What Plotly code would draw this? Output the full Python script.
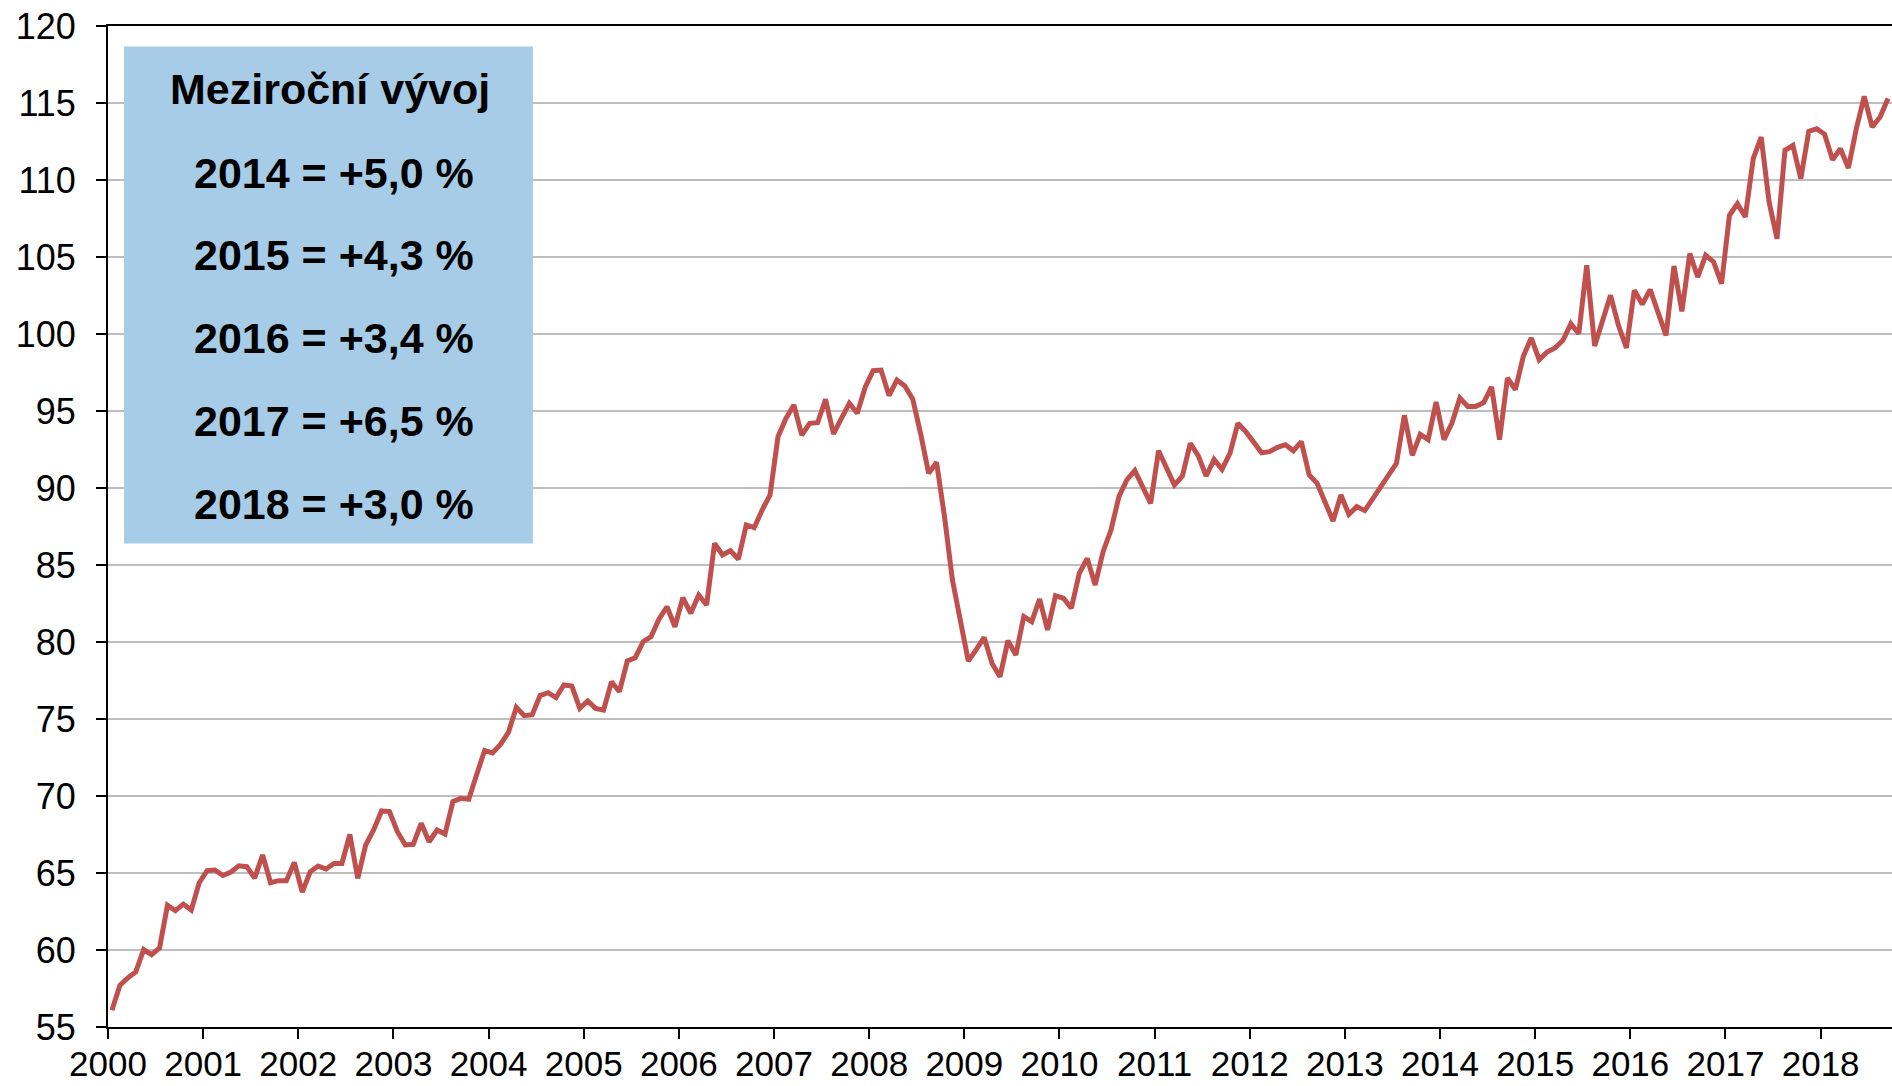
import plotly.graph_objects as go

start_year = 2000
values = [
    56.08, 57.71, 58.19, 58.58, 60.03, 59.70, 60.14, 62.91, 62.55, 62.98, 62.59, 64.37,
    65.15, 65.19, 64.84, 65.06, 65.47, 65.41, 64.67, 66.17, 64.37, 64.50, 64.50, 65.69,
    63.76, 65.08, 65.45, 65.26, 65.62, 65.62, 67.51, 64.65, 66.82, 67.79, 69.03, 68.99,
    67.68, 66.82, 66.86, 68.23, 67.03, 67.79, 67.53, 69.64, 69.85, 69.79, 71.40, 72.95,
    72.80, 73.35, 74.13, 75.76, 75.22, 75.28, 76.52, 76.71, 76.39, 77.21, 77.14, 75.69,
    76.17, 75.69, 75.58, 77.42, 76.77, 78.77, 78.98, 80.02, 80.35, 81.49, 82.29, 80.99,
    82.88, 81.86, 83.05, 82.40, 86.41, 85.65, 85.93, 85.37, 87.60, 87.42, 88.57, 89.55,
    93.33, 94.52, 95.39, 93.44, 94.20, 94.24, 95.76, 93.51, 94.52, 95.50, 94.85, 96.54,
    97.62, 97.66, 96.00, 97.01, 96.62, 95.76, 93.50, 90.95, 91.67, 88.14, 84.03, 81.43,
    78.77, 79.50, 80.30, 78.61, 77.75, 80.09, 79.16, 81.65, 81.32, 82.79, 80.78, 83.01,
    82.84, 82.19, 84.46, 85.43, 83.70, 85.87, 87.27, 89.44, 90.52, 91.13, 90.09, 89.00,
    92.42, 91.39, 90.19, 90.78, 92.90, 92.10, 90.78, 91.86, 91.21, 92.25, 94.20, 93.66,
    92.94, 92.29, 92.36, 92.64, 92.81, 92.42, 93.01, 90.84, 90.30, 89.00, 87.86, 89.55,
    88.29, 88.79, 88.53, 89.29, 90.09, 90.84, 91.60, 94.72, 92.12, 93.48, 93.14, 95.58,
    93.14, 94.22, 95.84, 95.30, 95.30, 95.54, 96.56, 93.14, 97.14, 96.39, 98.55, 99.74,
    98.33, 98.83, 99.09, 99.59, 100.67, 100.02, 104.46, 99.22, 100.89, 102.51, 100.56, 99.09,
    102.84, 101.93, 102.88, 101.43, 99.91, 104.42, 101.47, 105.22, 103.70, 105.11, 104.68, 103.27,
    107.71, 108.46, 107.60, 111.39, 112.79, 108.57, 106.19, 111.93, 112.25, 110.09, 113.16, 113.33,
    112.97, 111.32, 112.03, 110.78, 113.33, 115.43, 113.44, 114.09, 115.29,
]
years = list(range(2000, 2019))
year_labels = [str(y) for y in years]
box_title = "Meziroční vývoj"
box_lines = ["2014 = +5,0 %", "2015 = +4,3 %", "2016 = +3,4 %", "2017 = +6,5 %", "2018 = +3,0 %"]

x = [start_year + (i + 0.5) / 12 for i in range(len(values))]

fig = go.Figure()
fig.add_trace(go.Scatter(x=x, y=values, mode="lines", cliponaxis=False,
                         line=dict(color="#C0504D", width=5), hoverinfo="skip"))

font = "Liberation Sans, Arial, sans-serif"
fig.update_layout(
    width=1892, height=1086,
    margin=dict(l=108, r=0, t=26, b=59, autoexpand=False),
    paper_bgcolor="white", plot_bgcolor="white",
    showlegend=False,
    font=dict(family=font, size=36, color="black"),
    xaxis=dict(range=[2000, 2000 + len(values) / 12], tickvals=years, ticktext=year_labels,
               automargin=False,
               showgrid=False, zeroline=False, showline=True, linecolor="black", linewidth=2,
               mirror=True, ticks="outside", ticklen=10, tickwidth=2, tickcolor="black",
               tickfont=dict(size=35), ticklabelstandoff=-5),
    yaxis=dict(range=[55, 120], dtick=5, tick0=55, showgrid=True, gridcolor="#BEBEBE",
               automargin=False,
               gridwidth=1.5, zeroline=False, showline=True, linecolor="black", linewidth=2,
               ticks="outside", ticklen=10, tickwidth=2, tickcolor="black",
               tickfont=dict(size=36), ticklabelstandoff=13),
)

fig.add_shape(type="rect", xref="paper", yref="paper", x0=0.00897, x1=0.2382,
              y0=0.4829, y1=0.9796, fillcolor="#A7CCE8", line=dict(width=0), layer="above")

fig.add_annotation(xref="paper", yref="paper", x=0.1244, y=0.9371, text=f"<b>{box_title}</b>",
                   showarrow=False, font=dict(size=43, color="black", family=font),
                   xanchor="center", yanchor="middle")
ys = [0.8531, 0.7712, 0.6888, 0.6054, 0.5229]
for txt, yy in zip(box_lines, ys):
    fig.add_annotation(xref="paper", yref="paper", x=0.1267, y=yy, text=f"<b>{txt}</b>",
                       showarrow=False, font=dict(size=43, color="black", family=font),
                       xanchor="center", yanchor="middle")

fig.write_html("out.html", config={"displayModeBar": False},
               post_script="document.body.style.margin='0';document.body.style.overflow='hidden';")
